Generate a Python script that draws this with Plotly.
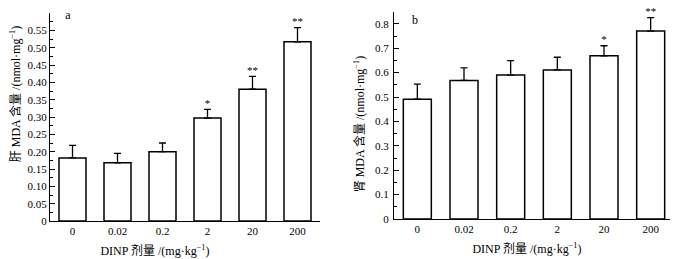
import plotly.graph_objects as go

doses = ["0", "0.02", "0.2", "2", "20", "200"]
liver_mda = [0.182, 0.168, 0.200, 0.297, 0.380, 0.517]
liver_err = [0.036, 0.027, 0.025, 0.025, 0.037, 0.041]
liver_sig = ["", "", "", "*", "**", "**"]
kidney_mda = [0.491, 0.568, 0.590, 0.611, 0.669, 0.770]
kidney_err = [0.062, 0.051, 0.059, 0.052, 0.041, 0.055]
kidney_sig = ["", "", "", "", "*", "**"]
liver_ticks = [0, 0.05, 0.10, 0.15, 0.20, 0.25, 0.30, 0.35, 0.40, 0.45, 0.50, 0.55, 0.60]
liver_ticktext = ["0"] + ["%.2f" % v for v in liver_ticks[1:]]
kidney_ticks = [0, 0.1, 0.2, 0.3, 0.4, 0.5, 0.6, 0.7, 0.8]
kidney_ticktext = ["0"] + ["%.1f" % v for v in kidney_ticks[1:]]
x_title = "DINP 剂量 /(mg·kg<sup>−1</sup>)"
y_title_liver = "肝 MDA 含量 /(nmol·mg<sup>−1</sup>)"
y_title_kidney = "肾 MDA 含量 /(nmol·mg<sup>−1</sup>)"
panel_labels = ["a", "b"]

W, H = 678, 259
OFF = 8  # page body margin shifts the figure by 8 px
FONT = "Liberation Serif, Times New Roman, Noto Sans CJK SC, serif"
xpos = list(range(len(doses)))

def px_x(p):
    return (p - OFF) / W

def px_y(p):
    return (H - (p - OFF)) / H

fig = go.Figure()

def add_bars(vals, errs, sig, xa, ya):
    fig.add_trace(go.Bar(
        x=xpos, y=vals, width=0.6,
        marker=dict(color="white", line=dict(color="black", width=1.5)),
        error_y=dict(type="data", array=errs, arrayminus=[0]*len(errs), symmetric=False,
                     color="black", thickness=1.3, width=3.5),
        xaxis=xa, yaxis=ya, showlegend=False, hoverinfo="skip"))
    tops = [v + e for v, e in zip(vals, errs)]
    fig.add_trace(go.Scatter(
        x=xpos, y=tops, mode="text", text=sig, textposition="top center",
        textfont=dict(family=FONT, size=11, color="#000000"), cliponaxis=False,
        xaxis=xa, yaxis=ya, showlegend=False, hoverinfo="skip"))

add_bars(liver_mda, liver_err, liver_sig, "x", "y")
add_bars(kidney_mda, kidney_err, kidney_sig, "x2", "y2")

# free-standing texts on a full-frame overlay axis (pixel coordinates of the reference)
fig.add_trace(go.Scatter(
    x=[68 - OFF, 415 - OFF, 155 - OFF, 527 - OFF],
    y=[16 - OFF, 21 - OFF, 252 - OFF, 250 - OFF],
    mode="text", text=panel_labels + [x_title, x_title], textposition="middle center",
    textfont=dict(family=FONT, size=12, color="#000000"), cliponaxis=False,
    xaxis="x3", yaxis="y3", showlegend=False, hoverinfo="skip"))
# carriers for rotated y titles
fig.add_trace(go.Scatter(x=[None], y=[None], xaxis="x3", yaxis="y4", showlegend=False))
fig.add_trace(go.Scatter(x=[None], y=[None], xaxis="x3", yaxis="y5", showlegend=False))

axis_common = dict(showline=True, linecolor="black", linewidth=1.3, showgrid=False,
                   zeroline=False, automargin=False,
                   tickfont=dict(family=FONT, size=11, color="black"))
hidden = dict(showline=False, showgrid=False, zeroline=False, showticklabels=False,
              ticks="", automargin=False)

fig.update_layout(
    template="none",
    width=W, height=H, margin=dict(l=0, r=0, t=0, b=0, pad=0), autosize=False,
    paper_bgcolor="white", plot_bgcolor="rgba(0,0,0,0)",
    font=dict(family=FONT, size=11, color="black"),
    xaxis=dict(domain=[px_x(50), px_x(320)], range=[-0.5, 5.5], tickvals=xpos, ticktext=doses,
               ticks="", anchor="y", ticklabelstandoff=0, **axis_common),
    yaxis=dict(domain=[px_y(221), px_y(13)], range=[0, 0.6], tickvals=liver_ticks,
               ticktext=liver_ticktext, ticks="inside", ticklen=5, tickcolor="black",
               minor=dict(ticks="inside", ticklen=3, dtick=0.025, tick0=0, tickcolor="black"),
               anchor="x", **axis_common),
    xaxis2=dict(domain=[px_x(394), px_x(674)], range=[-0.5, 5.5], tickvals=xpos, ticktext=doses,
                ticks="", anchor="y2", ticklabelstandoff=0, **axis_common),
    yaxis2=dict(domain=[px_y(219), px_y(11.6)], range=[0, 0.85], tickvals=kidney_ticks,
                ticktext=kidney_ticktext, ticks="inside", ticklen=5, tickcolor="black",
                minor=dict(ticks="inside", ticklen=3, dtick=0.05, tick0=0, tickcolor="black"),
                anchor="x2", ticklabelstandoff=2, **axis_common),
    xaxis3=dict(domain=[0, 1], range=[0, W], anchor="y3", visible=False, **hidden),
    yaxis3=dict(domain=[0, 1], range=[H, 0], anchor="x3", visible=False, **hidden),
    yaxis4=dict(domain=[px_y(94 + 40), px_y(94 - 40)], anchor="free", position=px_x(22),
                range=[0, 1], title=dict(text=y_title_liver, standoff=0,
                                         font=dict(family=FONT, size=12, color="black")), **hidden),
    yaxis5=dict(domain=[px_y(124 + 40), px_y(124 - 40)], anchor="free", position=px_x(369),
                range=[0, 1], title=dict(text=y_title_kidney, standoff=0,
                                         font=dict(family=FONT, size=12, color="black")), **hidden),
)

fig.write_html("out.html")
